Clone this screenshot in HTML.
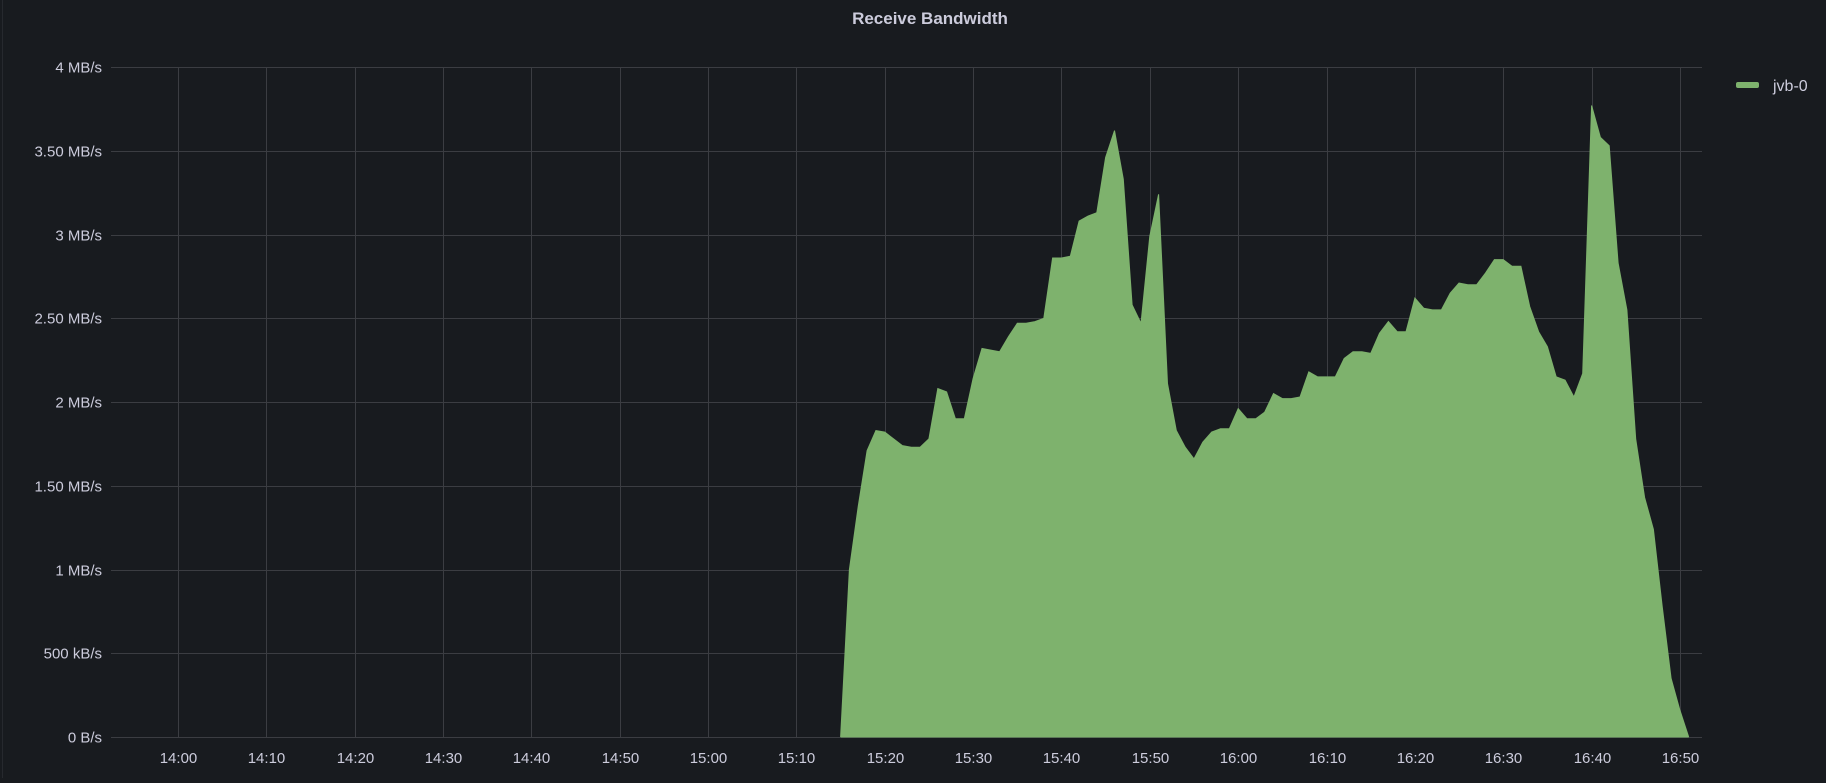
<!DOCTYPE html>
<html><head><meta charset="utf-8"><style>
html,body{margin:0;padding:0;background:#181b1f;}
body{width:1826px;height:778px;overflow:hidden;font-family:"Liberation Sans",sans-serif;}
svg text{font-family:"Liberation Sans",sans-serif;fill:#ccccdc;}
</style></head><body>
<svg id="chart" width="1826" height="778" xmlns="http://www.w3.org/2000/svg">
<rect x="0" y="0" width="1826" height="778" fill="#181b1f"/>
<line x1="2.5" y1="0" x2="2.5" y2="778" stroke="#26292e"/>
<text x="930" y="24" text-anchor="middle" font-size="17" font-weight="bold">Receive Bandwidth</text>
<g id="grid"></g>
<g id="series"></g>
<g id="yaxis"></g>
<g id="xaxis"></g>
<g>
<rect x="1736" y="82" width="23" height="6" rx="2" fill="#7eb26d"/>
<text x="1773" y="91" font-size="16">jvb-0</text>
</g>
</svg>
<script>
const yTicks = [0, 0.5, 1, 1.5, 2, 2.5, 3, 3.5, 4];
const yTickLabels = ["0 B/s","500 kB/s","1 MB/s","1.50 MB/s","2 MB/s","2.50 MB/s","3 MB/s","3.50 MB/s","4 MB/s"];
const xTicks = [0,10,20,30,40,50,60,70,80,90,100,110,120,130,140,150,160,170];
const xTickLabels = ["14:00","14:10","14:20","14:30","14:40","14:50","15:00","15:10","15:20","15:30","15:40","15:50","16:00","16:10","16:20","16:30","16:40","16:50"];
const seriesStart = 75; // minutes after 14:00 (15:15), one sample per minute
const seriesValues = [0,1.0,1.38,1.71,1.83,1.82,1.78,1.74,1.73,1.73,1.78,2.08,2.06,1.90,1.90,2.14,2.32,2.31,2.30,2.39,2.47,2.47,2.48,2.50,2.86,2.86,2.87,3.08,3.11,3.13,3.46,3.62,3.33,2.58,2.47,2.99,3.24,2.11,1.83,1.73,1.66,1.76,1.82,1.84,1.84,1.96,1.90,1.90,1.94,
2.05,2.02,2.02,2.03,2.18,2.15,2.15,2.15,2.26,2.30,2.30,2.29,2.41,2.48,2.42,2.42,2.62,2.56,2.55,2.55,2.65,2.71,2.70,2.70,2.77,2.85,2.85,2.81,2.81,2.57,2.42,2.33,2.15,2.13,2.03,2.17,3.77,3.58,3.53,2.83,2.55,1.78,1.43,1.24,0.78,0.35,0.16,0];

const NS="http://www.w3.org/2000/svg";
const L=111,R=1702,T=67,B=737;
const xMin=-7.58,xMax=172.5,yMin=0,yMax=4;
const xs=t=>L+(t-xMin)/(xMax-xMin)*(R-L);
const ys=v=>B-(v-yMin)/(yMax-yMin)*(B-T);
function mk(tag,attrs,parent){const e=document.createElementNS(NS,tag);for(const k in attrs)e.setAttribute(k,attrs[k]);parent.appendChild(e);return e;}
const grid=document.getElementById('grid'),ya=document.getElementById('yaxis'),xa=document.getElementById('xaxis'),sg=document.getElementById('series');
yTicks.forEach((v,i)=>{
 const y=Math.round(ys(v))+0.5;
 const ln=mk('line',{x1:L,x2:R,y1:y,y2:y,stroke:'#3b3d42','stroke-width':1},grid);
 
 
 const t=mk('text',{x:102,y:y+5,'text-anchor':'end','font-size':15},ya);
 t.textContent=yTickLabels[i];
 
 
});
xTicks.forEach((m,i)=>{
 const x=Math.round(xs(m))+0.5;
 const ln=mk('line',{x1:x,x2:x,y1:T,y2:B,stroke:'#3b3d42','stroke-width':1},grid);
 
 
 const t=mk('text',{x:x,y:763,'text-anchor':'middle','font-size':15},xa);
 t.textContent=xTickLabels[i];
 
 
});
let d='M'+xs(seriesStart)+','+ys(0);
seriesValues.forEach((v,i)=>{d+=' L'+xs(seriesStart+i).toFixed(1)+','+ys(v).toFixed(1);});
d+=' L'+xs(seriesStart+seriesValues.length-1)+','+ys(0)+' Z';
const area=mk('path',{d:d,fill:'#7eb26d',stroke:'#7eb26d','stroke-width':1},sg);


</script>
</body></html>
